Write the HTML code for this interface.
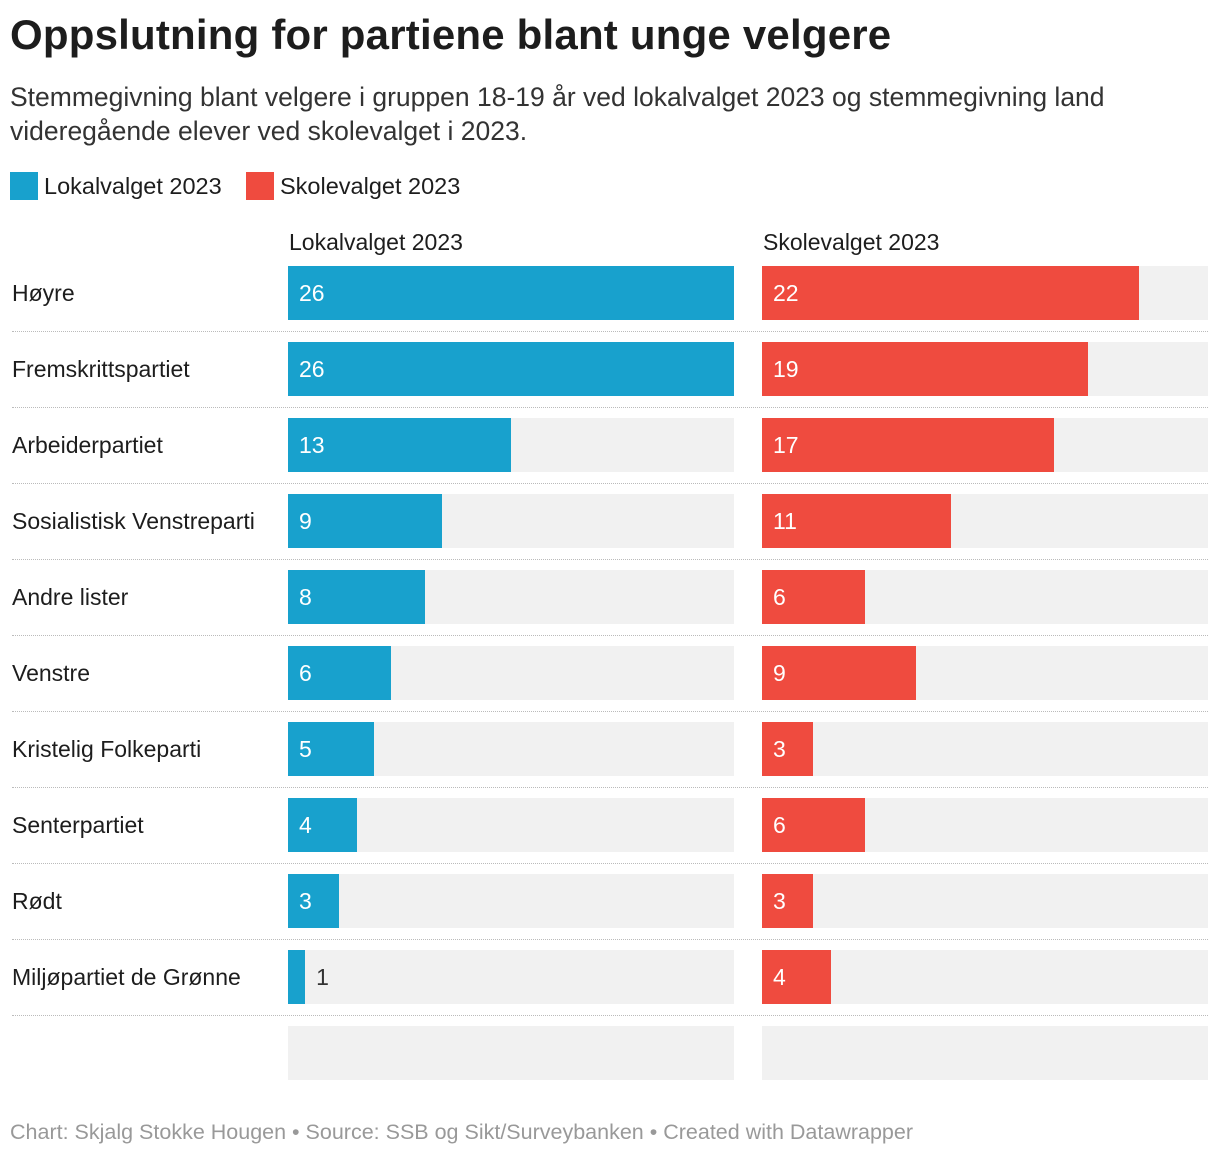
<!DOCTYPE html>
<html><head><meta charset="utf-8">
<style>
body{margin:0;width:1220px;height:1156px;background:#fff;font-family:"Liberation Sans",sans-serif;color:#1d1d1d;position:relative;overflow:hidden}
.t{position:absolute;white-space:nowrap}
</style></head><body>
<div class="t" style="left:10px;top:11px;font-size:42px;font-weight:bold;letter-spacing:0.2px">Oppslutning for partiene blant unge velgere</div>
<div class="t" style="left:10px;top:80px;font-size:26.5px;line-height:34px;color:#333;white-space:normal;width:1170px">Stemmegivning blant velgere i gruppen 18-19 år ved lokalvalget 2023 og stemmegivning land videregående elever ved skolevalget i 2023.</div>
<div class="t" style="left:10px;top:172px;font-size:23.5px;line-height:28px"><span style="display:inline-block;width:28px;height:28px;background:#18a1cd;vertical-align:top;margin-right:6px"></span>Lokalvalget 2023</div>
<div class="t" style="left:246px;top:172px;font-size:23.5px;line-height:28px"><span style="display:inline-block;width:28px;height:28px;background:#ef4b3f;vertical-align:top;margin-right:6px"></span>Skolevalget 2023</div>
<div class="t" style="left:289px;top:229px;font-size:23px">Lokalvalget 2023</div>
<div class="t" style="left:763px;top:229px;font-size:23px">Skolevalget 2023</div>
<div id="chart"></div>
<div class="t" style="left:10px;top:1120px;font-size:21.5px;color:#999">Chart: Skjalg Stokke Hougen • Source: SSB og Sikt/Surveybanken • Created with Datawrapper</div>
<script>
const parties=["Høyre","Fremskrittspartiet","Arbeiderpartiet","Sosialistisk Venstreparti","Andre lister","Venstre","Kristelig Folkeparti","Senterpartiet","Rødt","Miljøpartiet de Grønne",""];
const lokal=[26,26,13,9,8,6,5,4,3,1,null];
const skole=[22,19,17,11,6,9,3,6,3,4,null];
const maxVal=26;
const chart=document.getElementById('chart');
function x(v){return v/maxVal*446;}
function add(tag,style,text){const e=document.createElement(tag);e.className='t';e.style.cssText=style;if(text!=null)e.textContent=text;chart.appendChild(e);return e;}
parties.forEach((p,i)=>{
  const top=266+i*76;
  const lab=add('div',`left:12px;top:${top+13}px;font-size:23px;line-height:28px`,p);
  
  
  [[288,lokal[i],'#18a1cd','lokal'],[762,skole[i],'#ef4b3f','skole']].forEach(([x0,v,c,s])=>{
    const bg=add('div',`left:${x0}px;top:${top}px;width:446px;height:54px;background:#f1f1f1`);
    
    
    if(v==null)return;
    const w=x(v);
    const b=add('div',`left:${x0}px;top:${top}px;width:${w}px;height:54px;background:${c}`);
    
    
    const inside=w>40;
    const vl=add('div',`left:${inside?x0+11:x0+w+11}px;top:${top+13}px;font-size:23px;line-height:28px;color:${inside?'#fff':'#333'}`,String(v));
    
    
  });
  if(i<parties.length-1){
    const sep=add('div',`left:12px;top:${top+65}px;width:1196px;height:0;border-top:1px dotted #bbb`);
    
    
  }
});
</script>
</body></html>
